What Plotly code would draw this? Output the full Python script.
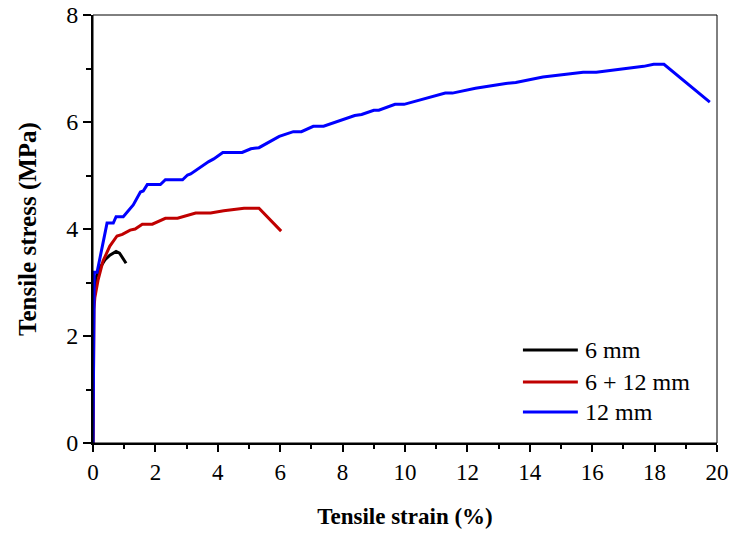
import plotly.graph_objects as go

# 6 mm
strain_6 = [0.0, 0.02, 0.1, 0.22, 0.38, 0.54, 0.74, 0.85, 1.06]
stress_6 = [0.0, 2.7, 3.1, 3.27, 3.42, 3.51, 3.58, 3.55, 3.36]

# 6 + 12 mm
strain_612 = [0.0, 0.03, 0.06, 0.16, 0.32, 0.54, 0.77, 0.94, 1.19, 1.35, 1.58, 1.90, 2.32, 2.71,
              3.29, 3.77, 4.19, 4.84, 5.32, 6.03]
stress_612 = [0.0, 2.5, 2.72, 3.04, 3.40, 3.68, 3.87, 3.90, 3.98, 4.00, 4.09, 4.09, 4.20, 4.20,
              4.30, 4.30, 4.34, 4.39, 4.39, 3.96]

# 12 mm
strain_12 = [0.0, 0.04, 0.13, 0.45, 0.65, 0.74, 0.97, 1.29, 1.52, 1.61, 1.74, 2.16, 2.32, 2.87,
             3.03, 3.13, 3.71, 3.87, 4.16, 4.78, 5.06, 5.32, 5.97, 6.42, 6.68, 7.06, 7.39, 7.87,
             8.39, 8.61, 9.0, 9.16, 9.68, 9.97, 10.23, 11.29, 11.52, 12.26, 13.23, 13.55, 14.42,
             15.71, 16.13, 17.65, 17.97, 18.30, 19.77]
stress_12 = [0.0, 3.19, 3.19, 4.11, 4.11, 4.23, 4.23, 4.45, 4.69, 4.71, 4.83, 4.83, 4.92, 4.92,
             5.01, 5.03, 5.26, 5.31, 5.43, 5.43, 5.50, 5.52, 5.73, 5.82, 5.82, 5.92, 5.92, 6.01,
             6.12, 6.14, 6.22, 6.22, 6.33, 6.33, 6.37, 6.54, 6.54, 6.63, 6.72, 6.74, 6.84,
             6.93, 6.93, 7.04, 7.08, 7.08, 6.37]

series_names = ["6 mm", "6 + 12 mm", "12 mm"]
series_colors = ["#000000", "#C00000", "#0000FF"]

x_ticks = [0, 2, 4, 6, 8, 10, 12, 14, 16, 18, 20]
y_ticks = [0, 2, 4, 6, 8]

FONT = "Liberation Serif, Times New Roman, serif"

fig = go.Figure()
for xs, ys, name, color in zip([strain_6, strain_612, strain_12],
                               [stress_6, stress_612, stress_12],
                               series_names, series_colors):
    fig.add_trace(go.Scatter(x=xs, y=ys, mode="lines", name=name,
                             line=dict(color=color, width=3), showlegend=False))

# Hand-drawn legend (long line samples like the original)
shapes = [dict(type="rect", xref="paper", yref="paper", x0=0, y0=0, x1=1, y1=1,
               line=dict(color="black", width=1), layer="above")]
annotations = []
legend_rows = [0.217, 0.1425, 0.0724]
for name, color, yr in zip(series_names, series_colors, legend_rows):
    shapes.append(dict(type="line", xref="paper", yref="paper", x0=0.689, x1=0.777,
                       y0=yr, y1=yr, line=dict(color=color, width=3)))
    annotations.append(dict(xref="paper", yref="paper", x=0.785, y=yr, text=name,
                            showarrow=False, xanchor="left", yanchor="middle",
                            font=dict(family=FONT, size=24, color="black")))

fig.update_layout(
    width=733, height=535,
    margin=dict(l=93, r=16, t=15, b=92, autoexpand=False),
    paper_bgcolor="white", plot_bgcolor="white",
    font=dict(family=FONT, size=23, color="black"),
    showlegend=False,
    shapes=shapes,
    annotations=annotations,
)

fig.update_xaxes(
    range=[0, 20], tickvals=x_ticks, ticktext=[str(v) for v in x_ticks],
    automargin=False,
    showgrid=False, zeroline=False, showline=True, linecolor="black", linewidth=2,
    ticks="outside", ticklen=7, tickwidth=2, tickcolor="black",
    minor=dict(dtick=1, ticks="outside", ticklen=4, tickwidth=2, tickcolor="black"),
    tickfont=dict(family=FONT, size=23, color="black"),
    title=dict(text="<b>Tensile strain (%)</b>", font=dict(family=FONT, size=23, color="black"),
               standoff=24),
)
fig.update_yaxes(
    range=[0, 8], tickvals=y_ticks, ticktext=[str(v) for v in y_ticks],
    automargin=False,
    showgrid=False, zeroline=False, showline=True, linecolor="black", linewidth=2,
    ticks="outside", ticklen=8, tickwidth=2, tickcolor="black",
    minor=dict(dtick=1, ticks="outside", ticklen=5, tickwidth=2, tickcolor="black"),
    tickfont=dict(family=FONT, size=24, color="black"),
    title=dict(text="<b>Tensile stress (MPa)</b>", font=dict(family=FONT, size=25, color="black"),
               standoff=22),
)

fig.write_html("out.html")
